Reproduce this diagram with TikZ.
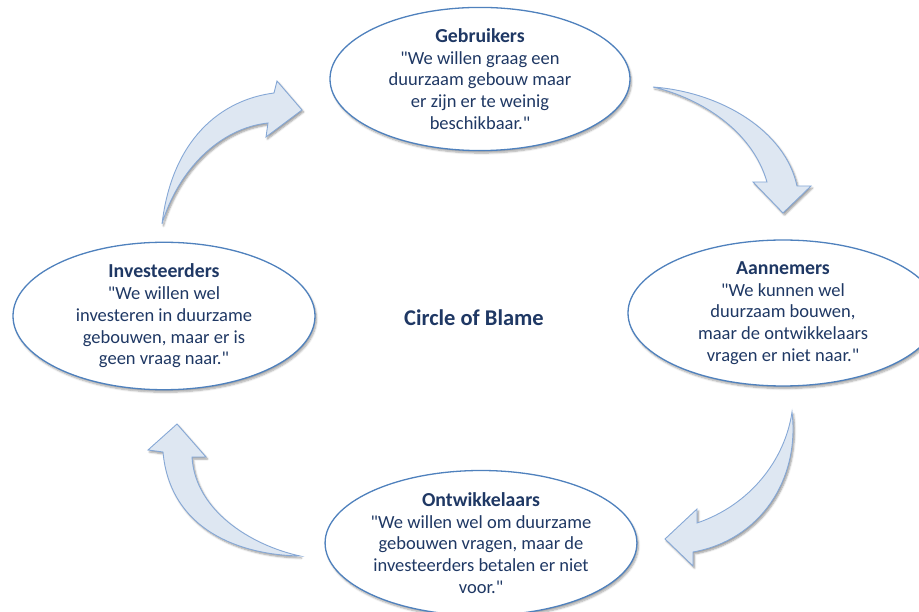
\documentclass[tikz,border=0pt]{standalone}
\usepackage{fontspec}
\setmainfont{Carlito}
\usetikzlibrary{shapes.geometric,shadows.blur}
\definecolor{navy}{HTML}{1F3864}
\definecolor{rim}{HTML}{4F81BD}
\definecolor{arrowfill}{HTML}{DEE7F2}
\definecolor{arrowrim}{HTML}{86A8D6}
% straight double quote, set as a glyph so no ligature mapping curls it
\newcommand{\dq}{\XeTeXglyph\XeTeXcharglyph"22\relax}
\newcommand{\partyname}[1]{{\bfseries\fontsize{19.8}{21.8}\selectfont #1}}
\tikzset{
  actor/.style={ellipse, draw=rim, line width=1.3pt, fill=white,
    inner sep=0pt, text=navy, align=center,
    font=\fontsize{18.5}{21.8}\selectfont,
    blur shadow={shadow xshift=1.5pt, shadow yshift=-2.5pt,
      shadow blur steps=6, shadow opacity=35}},
  bentarrow/.style={fill=arrowfill, draw=arrowrim, line width=0.9pt,
    line join=miter,
    blur shadow={shadow xshift=1.5pt, shadow yshift=-2pt,
      shadow blur steps=5, shadow opacity=40}},
  heading/.style={font=\bfseries\fontsize{22.5}{26}\selectfont, text=navy}
}
\begin{document}
\begin{tikzpicture}[x=1pt, y=-1pt]
\useasboundingbox (0,0) rectangle (919,612);
\clip (0,0) rectangle (919,612);

% curved block arrows running clockwise between the four parties
\draw[bentarrow] (162,224) .. controls (172,140) and (220,100) .. (274,93)
  -- (277,81) -- (302,110) -- (266,137) -- (268,123)
  .. controls (220,128) and (178,170) .. cycle;
\draw[bentarrow] (653,87) .. controls (720,92) and (785,130) .. (797,186)
  -- (811,186) -- (783,213) -- (753,182) -- (767,182)
  .. controls (752,130) and (700,98) .. cycle;
\draw[bentarrow] (792,412) .. controls (800,480) and (760,540) .. (693,552)
  -- (693,566) -- (665,539) -- (697,509) -- (697,523)
  .. controls (750,505) and (785,460) .. cycle;
\draw[bentarrow] (300,556) .. controls (240,555) and (170,530) .. (163,452)
  -- (148,450) -- (177,424) -- (206,457) -- (192,457)
  .. controls (195,510) and (250,545) .. cycle;

% the four parties
\node[actor, minimum width=300pt, minimum height=139pt] (gebruikers) at (480,79)
  {\partyname{Gebruikers}\\\dq We willen graag een\\duurzaam gebouw maar\\er zijn er te weinig\\beschikbaar.\dq};
\node[actor, minimum width=310pt, minimum height=141pt] (aannemers) at (783,313)
  {\partyname{Aannemers}\\\dq We kunnen wel\\duurzaam bouwen,\\maar de ontwikkelaars\\vragen er niet naar.\dq};
\node[actor, minimum width=302pt, minimum height=145pt] (ontwikkelaars) at (481,543)
  {\partyname{Ontwikkelaars}\\\dq We willen wel om duurzame\\gebouwen vragen, maar de\\investeerders betalen er niet\\voor.\dq};
\node[actor, minimum width=302pt, minimum height=145pt] (investeerders) at (164,316)
  {\partyname{Investeerders}\\\dq We willen wel\\investeren in duurzame\\gebouwen, maar er is\\geen vraag naar.\dq};

\node[heading] (title) at (474,318) {Circle of Blame};
\end{tikzpicture}
\end{document}
